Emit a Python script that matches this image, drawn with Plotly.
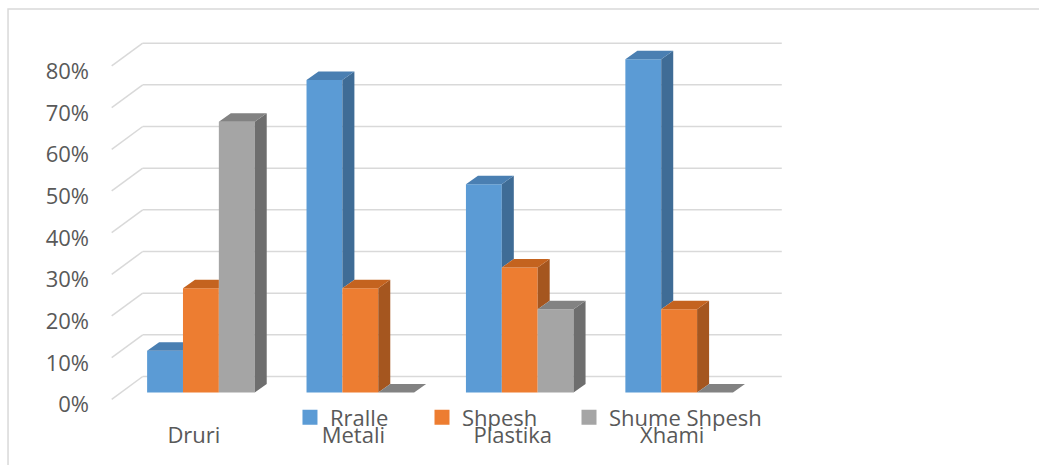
import plotly.graph_objects as go

# ---- data ----
categories = ["Druri", "Metali", "Plastika", "Xhami"]
series_names = ["Rralle", "Shpesh", "Shume Shpesh"]
rralle = [0.10, 0.75, 0.50, 0.80]
shpesh = [0.25, 0.25, 0.30, 0.20]
shume_shpesh = [0.65, 0.00, 0.20, 0.00]
y_ticks = [0.0, 0.1, 0.2, 0.3, 0.4, 0.5, 0.6, 0.7, 0.8]

# ---- styles ----
front_colors = ["#5B9BD5", "#ED7D31", "#A5A5A5"]
side_colors = ["#3F6C96", "#A5561F", "#6E6E6E"]
top_colors = ["#4A7FB2", "#C4631F", "#828282"]
text_color = "#595959"
grid_color = "#D9D9D9"
FONT = "Open Sans"
legend_x = [0.2714, 0.4600, 0.6700]

# ---- 3D geometry (data units) ----
BARGAP = 0.325
values = [rralle, shpesh, shume_shpesh]
n_series = len(values)
bar_w = (1 - BARGAP) / n_series
DX = 0.0753      # depth offset along x
DY = 0.0204      # depth offset along y
BACK_DY = 0.0384
FRONT_DY = -0.0163
X_FRONT = -0.5596
X_BACK = -0.3651
X_END = 3.6437

XMIN, XMAX = -0.633, 3.758
YMIN, YMAX = -0.066, 0.870

xs = list(range(len(categories)))

fig = go.Figure()

# front faces: real bars
for s in range(n_series):
    fig.add_trace(go.Bar(
        x=xs, y=values[s], name=series_names[s], showlegend=False,
        marker=dict(color=front_colors[s], line=dict(width=0)),
    ))

# side and top faces
for s in range(n_series):
    side_x, side_y, top_x, top_y = [], [], [], []
    for c in xs:
        v = values[s][c]
        xl = c - (1 - BARGAP) / 2 + s * bar_w
        xr = xl + bar_w
        vn = values[s + 1][c] if s + 1 < n_series else 0.0
        if vn < v:
            side_x += [xr, xr + DX, xr + DX, xr, xr, None]
            side_y += [vn, vn + DY, v + DY, v, vn, None]
        if vn > v:
            top_x += [xl, xl + DX, xr, xr, xl, None]
            top_y += [v, v + DY, v + DY, v, v, None]
        else:
            top_x += [xl, xl + DX, xr + DX, xr, xl, None]
            top_y += [v, v + DY, v + DY, v, v, None]
    fig.add_trace(go.Scatter(
        x=side_x, y=side_y, mode="lines", fill="toself",
        fillcolor=side_colors[s], line=dict(width=0, color=side_colors[s]),
        showlegend=False, hoverinfo="skip",
    ))
    fig.add_trace(go.Scatter(
        x=top_x, y=top_y, mode="lines", fill="toself",
        fillcolor=top_colors[s], line=dict(width=0, color=top_colors[s]),
        showlegend=False, hoverinfo="skip",
    ))

# legend entries (square swatches), one legend box per series
legend_ids = ["legend", "legend2", "legend3"]
for s in range(n_series):
    fig.add_trace(go.Scatter(
        x=[None], y=[None], mode="markers", name=series_names[s],
        marker=dict(symbol="square", size=13, color=front_colors[s],
                    line=dict(width=2, color=front_colors[s])),
        showlegend=True, hoverinfo="skip", legend=legend_ids[s],
    ))

# gridlines (back wall + floor diagonals)
shapes = []
for t in y_ticks:
    shapes.append(dict(type="line", xref="x", yref="y", layer="below",
                       x0=X_FRONT, y0=t + FRONT_DY, x1=X_BACK, y1=t + BACK_DY,
                       line=dict(color=grid_color, width=1.5)))
    shapes.append(dict(type="line", xref="x", yref="y", layer="below",
                       x0=X_BACK, y0=t + BACK_DY, x1=X_END, y1=t + BACK_DY,
                       line=dict(color=grid_color, width=1.5)))

# chart border
shapes.append(dict(type="rect", xref="paper", yref="paper",
                   x0=-0.1314, y0=-0.128, x1=1.35, y1=1.0538,
                   line=dict(color=grid_color, width=1.5), fillcolor="rgba(0,0,0,0)"))

legend_common = dict(orientation="h", xanchor="left", y=0.0064, yanchor="middle",
                     bgcolor="rgba(0,0,0,0)", font=dict(size=22, color=text_color),
                     itemwidth=30)

fig.update_layout(
    width=1039, height=465,
    margin=dict(l=100, r=239, t=30, b=45),
    paper_bgcolor="white", plot_bgcolor="white",
    barmode="group", bargap=BARGAP, bargroupgap=0,
    font=dict(family=FONT, size=22, color=text_color),
    shapes=shapes,
    showlegend=True,
    legend=dict(x=legend_x[0], **legend_common),
    legend2=dict(x=legend_x[1], **legend_common),
    legend3=dict(x=legend_x[2], **legend_common),
    xaxis=dict(range=[XMIN, XMAX], tickvals=xs, ticktext=categories,
               showgrid=False, zeroline=False, showline=False, ticks="",
               ticklabelshift=-7, tickfont=dict(size=22, color=text_color)),
    yaxis=dict(range=[YMIN, YMAX], tickvals=y_ticks, tickformat=".0%",
               showgrid=False, zeroline=False, showline=False, ticks="",
               ticklabelshift=12, ticklabelstandoff=10,
               tickfont=dict(size=22, color=text_color)),
)

fig.write_html("out.html")
